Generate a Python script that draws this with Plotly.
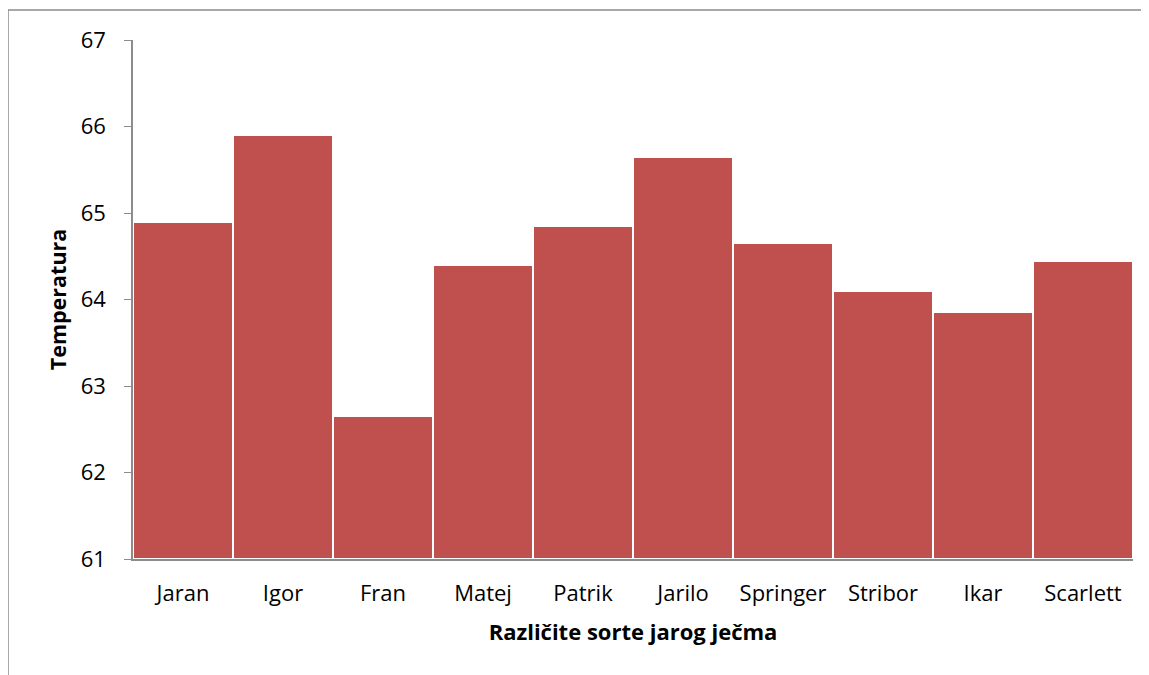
import plotly.graph_objects as go

categories = ["Jaran", "Igor", "Fran", "Matej", "Patrik", "Jarilo", "Springer", "Stribor", "Ikar", "Scarlett"]
values = [64.9, 65.9, 62.65, 64.4, 64.85, 65.65, 64.65, 64.1, 63.85, 64.45]
y_ticks = [61, 62, 63, 64, 65, 66, 67]

FONT = "Open Sans, sans-serif"

fig = go.Figure()
fig.add_trace(go.Bar(
    x=categories,
    y=[v - 61 for v in values],
    base=61,
    marker=dict(color="#C0504D", line=dict(color="white", width=2)),
    hoverinfo="x+y",
))

fig.update_layout(
    width=1141, height=667,
    margin=dict(l=125, r=16, t=32, b=116),
    paper_bgcolor="white", plot_bgcolor="white",
    bargap=0,
    showlegend=False,
    font=dict(family=FONT, color="black"),
    shapes=[dict(type="rect", xref="paper", yref="paper",
                 x0=-125/1000, x1=1.2, y0=-0.5, y1=1 + 30/519,
                 line=dict(color="#8C8C8C", width=1.5), layer="below")],
)
fig.update_yaxes(
    range=[61, 67], tickvals=y_ticks, showgrid=False,
    showline=True, linecolor="#8C8C8C", linewidth=1.5,
    ticks="outside", ticklen=7, tickcolor="#8C8C8C",
    tickfont=dict(size=22, family=FONT), ticklabelstandoff=14,
    title=dict(text="<b>Temperatura</b>", font=dict(size=21.5, family=FONT), standoff=8),
    zeroline=False,
)
fig.update_xaxes(
    showgrid=False, showline=True, linecolor="#8C8C8C", linewidth=2,
    ticks="", tickfont=dict(size=22, family=FONT), ticklabelstandoff=14,
    title=dict(text="<b>Različite sorte jarog ječma</b>", font=dict(size=22, family=FONT), standoff=18),
    range=[-0.5, 9.5],
)

fig.write_html("out.html")
